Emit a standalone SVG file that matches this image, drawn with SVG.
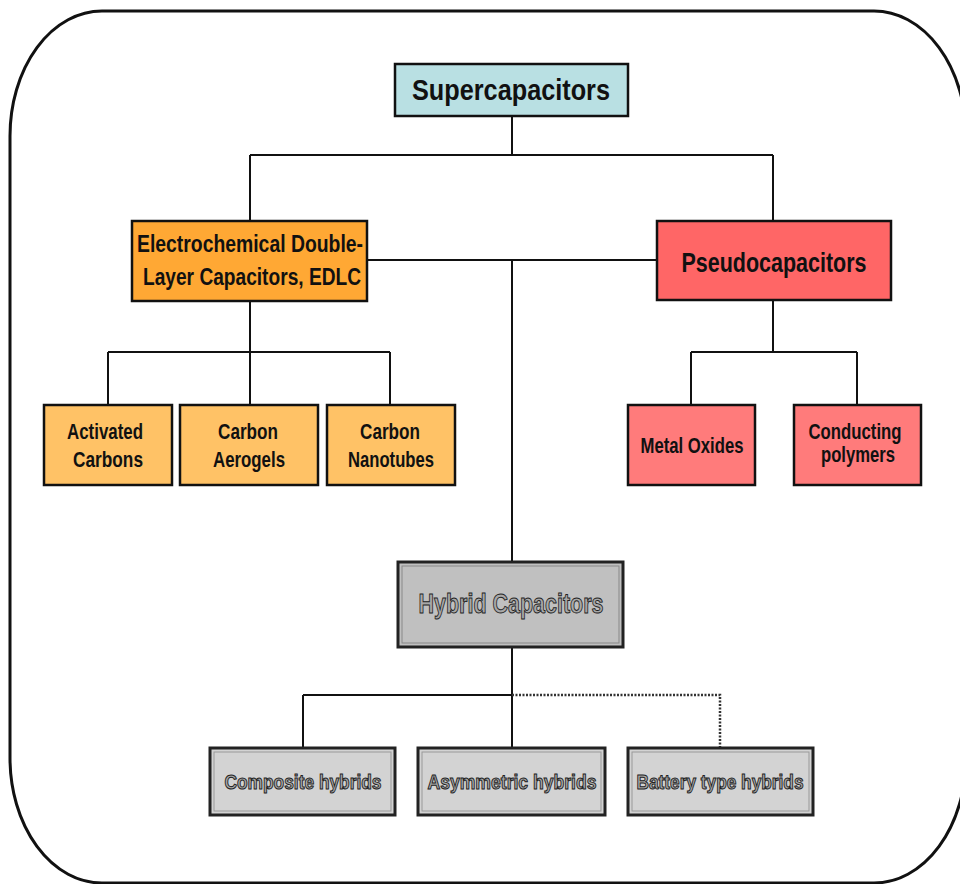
<svg xmlns="http://www.w3.org/2000/svg" width="960" height="884" viewBox="0 0 960 884">
<style>
.box{stroke:#111;stroke-width:2.5}
.t{font-family:"Liberation Sans",Arial,sans-serif;font-weight:bold;fill:#111;text-anchor:middle}
.g{font-family:"Liberation Sans",Arial,sans-serif;font-weight:bold;fill:#a8a8a8;stroke:#222;stroke-width:1;text-anchor:middle}
.c{fill:none;stroke:#111;stroke-width:2}
.d{fill:none;stroke:#333;stroke-width:2.5;stroke-dasharray:2 1.5}
</style>
<rect width="960" height="884" fill="#fff"/>
<rect x="10" y="11" width="956" height="872" rx="92" ry="125" fill="none" stroke="#111" stroke-width="3"/>
<g id="connectors">
<path class="c" d="M512 116V155M250 155H773M250 155V221M773 155V221"/>
<path class="c" d="M367 260H657M512 260V562"/>
<path class="c" d="M250 301V352M108 352H390M108 352V405M250 352V405M390 352V405"/>
<path class="c" d="M773 300V352M691 352H857M691 352V405M857 352V405"/>
<path class="c" d="M512 647V748M303 695H512M303 695V748"/>
<path class="d" d="M512 695H720V748"/>
</g>
<g id="supercapacitors">
<rect class="box" x="395" y="64" width="233" height="52" fill="#b9e0e3"/>
<text class="t" x="511" y="100" font-size="30" textLength="198" lengthAdjust="spacingAndGlyphs">Supercapacitors</text>
</g>
<g id="edlc">
<rect class="box" x="132" y="221" width="235" height="80" fill="#ffa834"/>
<text class="t" x="250" y="252" font-size="23.5" textLength="226" lengthAdjust="spacingAndGlyphs">Electrochemical Double-</text>
<text class="t" x="252" y="285" font-size="23.5" textLength="218" lengthAdjust="spacingAndGlyphs">Layer Capacitors, EDLC</text>
</g>
<g id="pseudocapacitors">
<rect class="box" x="657" y="221" width="234" height="79" fill="#ff6666"/>
<text class="t" x="774" y="272" font-size="28.5" textLength="185" lengthAdjust="spacingAndGlyphs">Pseudocapacitors</text>
</g>
<g id="activated-carbons">
<rect class="box" x="44" y="405" width="128" height="80" fill="#ffc266"/>
<text class="t" x="105" y="439" font-size="22.5" textLength="76" lengthAdjust="spacingAndGlyphs">Activated</text>
<text class="t" x="108" y="467" font-size="22.5" textLength="70" lengthAdjust="spacingAndGlyphs">Carbons</text>
</g>
<g id="carbon-aerogels">
<rect class="box" x="180" y="405" width="138" height="80" fill="#ffc266"/>
<text class="t" x="248" y="439" font-size="22.5" textLength="60" lengthAdjust="spacingAndGlyphs">Carbon</text>
<text class="t" x="249" y="467" font-size="22.5" textLength="72" lengthAdjust="spacingAndGlyphs">Aerogels</text>
</g>
<g id="carbon-nanotubes">
<rect class="box" x="327" y="405" width="128" height="80" fill="#ffc266"/>
<text class="t" x="390" y="439" font-size="22.5" textLength="60" lengthAdjust="spacingAndGlyphs">Carbon</text>
<text class="t" x="391" y="467" font-size="22.5" textLength="86" lengthAdjust="spacingAndGlyphs">Nanotubes</text>
</g>
<g id="metal-oxides">
<rect class="box" x="628" y="405" width="127" height="80" fill="#ff7b7b"/>
<text class="t" x="692" y="453" font-size="21.5" textLength="103" lengthAdjust="spacingAndGlyphs">Metal Oxides</text>
</g>
<g id="conducting-polymers">
<rect class="box" x="794" y="405" width="127" height="80" fill="#ff7b7b"/>
<text class="t" x="855" y="439" font-size="21.5" textLength="93" lengthAdjust="spacingAndGlyphs">Conducting</text>
<text class="t" x="858" y="462" font-size="21.5" textLength="74" lengthAdjust="spacingAndGlyphs">polymers</text>
</g>
<g id="hybrid-capacitors">
<rect x="398" y="562" width="225" height="85" fill="#c0c0c0" stroke="#222" stroke-width="3"/>
<rect x="402" y="566" width="217" height="77" fill="none" stroke="#888" stroke-width="1"/>
<text class="g" x="511" y="613" font-size="28" textLength="185" lengthAdjust="spacingAndGlyphs">Hybrid Capacitors</text>
</g>
<g id="composite-hybrids">
<rect x="210" y="748" width="185" height="67" fill="#d3d3d3" stroke="#222" stroke-width="3"/>
<rect x="214" y="752" width="177" height="59" fill="none" stroke="#999" stroke-width="1"/>
<text class="g" x="303" y="789" font-size="20" textLength="157" lengthAdjust="spacingAndGlyphs">Composite hybrids</text>
</g>
<g id="asymmetric-hybrids">
<rect x="418" y="748" width="187" height="67" fill="#d3d3d3" stroke="#222" stroke-width="3"/>
<rect x="422" y="752" width="179" height="59" fill="none" stroke="#999" stroke-width="1"/>
<text class="g" x="512" y="789" font-size="20" textLength="169" lengthAdjust="spacingAndGlyphs">Asymmetric hybrids</text>
</g>
<g id="battery-type-hybrids">
<rect x="628" y="748" width="185" height="67" fill="#d3d3d3" stroke="#222" stroke-width="3"/>
<rect x="632" y="752" width="177" height="59" fill="none" stroke="#999" stroke-width="1"/>
<text class="g" x="720" y="789" font-size="20" textLength="167" lengthAdjust="spacingAndGlyphs">Battery type hybrids</text>
</g>
</svg>
